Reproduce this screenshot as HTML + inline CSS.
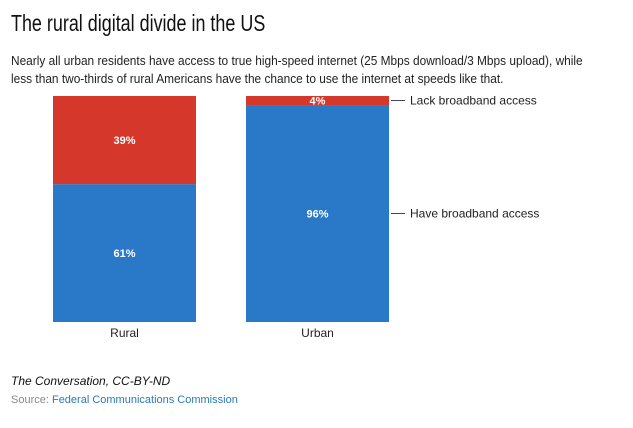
<!DOCTYPE html>
<html><head><meta charset="utf-8"><style>
body{margin:0;width:633px;height:428px;background:#fff;font-family:"Liberation Sans",sans-serif;overflow:hidden;position:relative}
.t{position:absolute;left:11px;top:10px;font-size:23px;color:#111;white-space:nowrap;transform:scaleX(0.78);transform-origin:left top}
.s{position:absolute;left:11px;top:52px;font-size:12.5px;line-height:18px;color:#222;width:660px;white-space:nowrap;transform:scaleX(0.95);transform-origin:left top}
.c{position:absolute;left:11px;top:374px;font-size:12px;font-style:italic;color:#111}
.src{position:absolute;left:11px;top:394px;font-size:11px;color:#888}
.src span{color:#2a7ab8}
</style></head><body>
<div class="t">The rural digital divide in the US</div>
<div class="s">Nearly all urban residents have access to true high-speed internet (25 Mbps download/3 Mbps upload), while<br>less than two-thirds of rural Americans have the chance to use the internet at speeds like that.</div>
<svg id="ch" width="633" height="428" style="position:absolute;left:0;top:0"></svg>
<div class="c">The Conversation, CC-BY-ND</div>
<div class="src">Source: <span>Federal Communications Commission</span></div>
<script>
const categories=["Rural","Urban"];
const haveValues=[61,96];
const lackValues=[39,4];
const seriesNames=["Have broadband access","Lack broadband access"];
const NS="http://www.w3.org/2000/svg";
const svg=document.getElementById('ch');
const top0=96,bot=322,bw=143,x0=53,gap=193;
function y(v){return bot-(bot-top0)*v/100;}
function xb(i){return x0+i*gap;}
function mk(t,a){const e=document.createElementNS(NS,t);for(const k in a)e.setAttribute(k,a[k]);svg.appendChild(e);return e;}
categories.forEach((c,i)=>{
  const h=haveValues[i],l=lackValues[i];
  const r1=mk('rect',{x:xb(i),y:y(h),width:bw,height:bot-y(h),fill:'#2a78c8'});
  
  
  const r2=mk('rect',{x:xb(i),y:y(h+l),width:bw,height:y(h)-y(h+l),fill:'#d5372b'});
  
  
  const t1=mk('text',{x:xb(i)+bw/2,y:(y(h)+bot)/2+4,'text-anchor':'middle','font-size':11,'font-weight':'bold',fill:'#fff'});
  t1.textContent=h+'%';
  
  
  const t2=mk('text',{x:xb(i)+bw/2,y:(y(h)+y(h+l))/2+4,'text-anchor':'middle','font-size':11,'font-weight':'bold',fill:'#fff'});
  t2.textContent=l+'%';
  
  
  const tc=mk('text',{x:xb(i)+bw/2,y:337,'text-anchor':'middle','font-size':12,fill:'#222'});
  tc.textContent=c;
  
  
});
const last=categories.length-1;
const lx=xb(last)+bw+2;
const ly=[(y(haveValues[last])+bot)/2,(y(haveValues[last])+y(100))/2];
seriesNames.forEach((n,j)=>{
  mk('line',{x1:lx,x2:lx+14,y1:ly[j],y2:ly[j],stroke:'#444','stroke-width':1});
  const t=mk('text',{x:lx+19,y:ly[j]+4,'font-size':12,fill:'#222'});
  t.textContent=n;
  
  
});
</script>
</body></html>
